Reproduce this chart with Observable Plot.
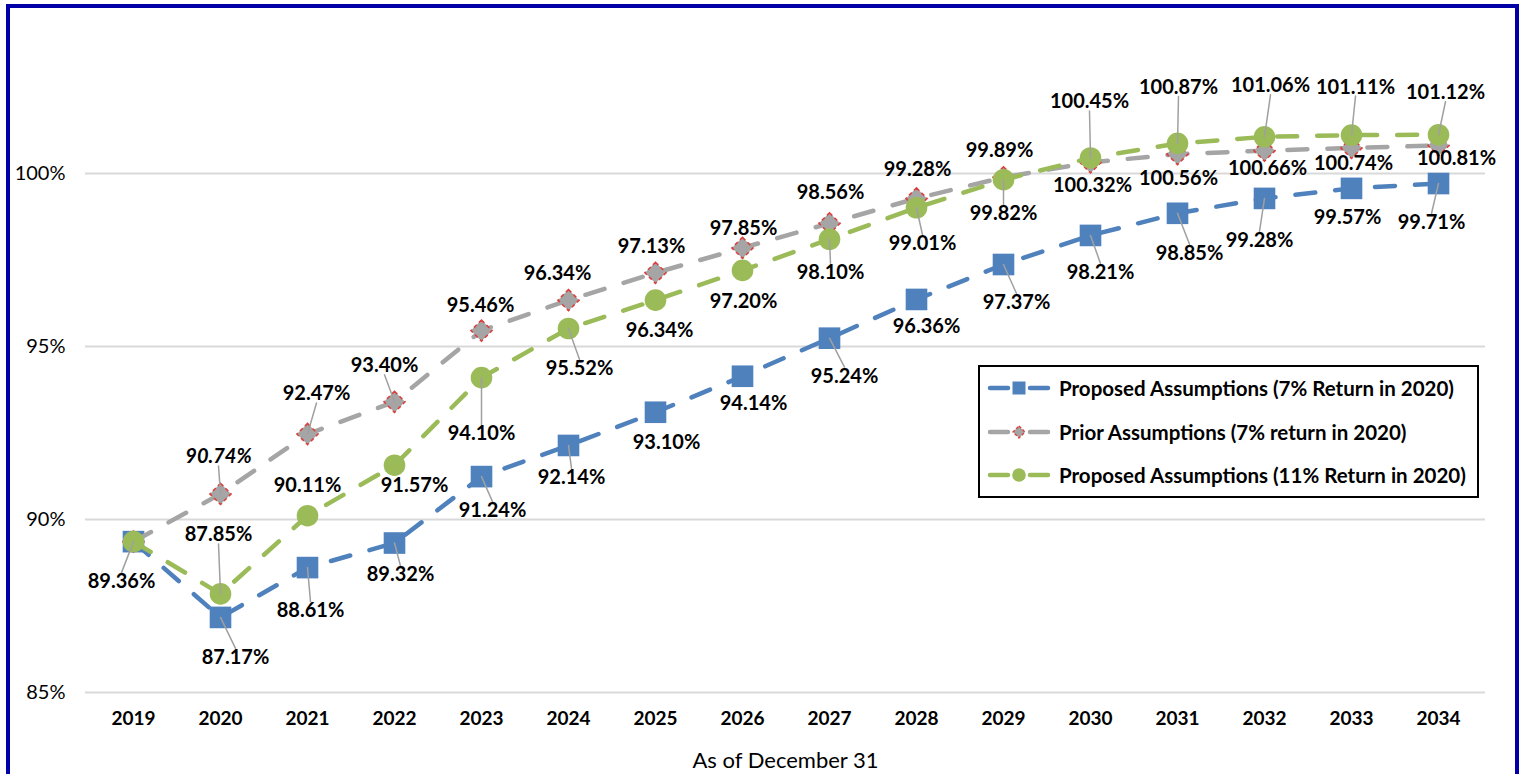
<!DOCTYPE html>
<html>
<head>
<meta charset="utf-8">
<script src="https://cdn.jsdelivr.net/npm/d3@7"></script>
<script src="https://cdn.jsdelivr.net/npm/@observablehq/plot@0.6"></script>
<style>
  html, body { margin: 0; padding: 0; background: #fff; overflow: hidden; }
  #wrap { position: relative; width: 1523px; height: 774px; }
  #frame { position: absolute; left: 6px; top: 4px; width: 1513px; height: 800px; border: 4px solid #0000A6; box-sizing: border-box; pointer-events: none; }
  #legend { position: absolute; left: 978px; top: 365px; width: 501px; height: 133px; border: 2px solid #000; box-sizing: border-box; background: #fff;
            font-family: Lato, "Noto Sans", sans-serif; font-weight: bold; font-size: 20.5px; color: #000; }
  #legend .row { position: absolute; left: 7px; height: 22px; display: flex; align-items: center; white-space: nowrap; }
  #legend .row svg { margin-right: 8px; }
</style>
</head>
<body>
<div id="wrap">
  <div id="chart"></div>
  <div id="legend"></div>
  <div id="frame"></div>
</div>
<script>
// ---- data ----
const years = [2019, 2020, 2021, 2022, 2023, 2024, 2025, 2026, 2027, 2028, 2029, 2030, 2031, 2032, 2033, 2034];
const proposed7  = [89.36, 87.17, 88.61, 89.32, 91.24, 92.14, 93.10, 94.14, 95.24, 96.36, 97.37, 98.21, 98.85, 99.28, 99.57, 99.71];
const prior7     = [89.36, 90.74, 92.47, 93.40, 95.46, 96.34, 97.13, 97.85, 98.56, 99.28, 99.89, 100.32, 100.56, 100.66, 100.74, 100.81];
const proposed11 = [89.36, 87.85, 90.11, 91.57, 94.10, 95.52, 96.34, 97.20, 98.10, 99.01, 99.82, 100.45, 100.87, 101.06, 101.11, 101.12];
const seriesNames = [
  "Proposed Assumptions (7% Return in 2020)",
  "Prior Assumptions (7% return in 2020)",
  "Proposed Assumptions (11% Return in 2020)"
];
const yTicks = [85, 90, 95, 100];
const xLabel = "As of December 31";

// ---- label layout (pixel offsets of each data label from its point; null = no label) ----
const proposed7LabelOffsets = [[-12,40],[15,40],[3,43],[6,32],[11,34],[3,32],[11,30],[11,27],[15,38],[10,27],[13,38],[10,37],[12,40],[-5,42],[-4,29],[-7,39]];
const prior7LabelOffsets = [null,[-2,-37],[9,-40],[-10,-36],[-1,-25],[-11,-27],[-4,-26],[1,-19],[1,-31],[1,-29],[-4,-27],[2,23],[1,24],[3,18],[2,16],[18,13]];
const proposed11LabelOffsets = [null,[-2,-59],[0,-30],[20,20],[0,56],[11,40],[4,30],[1,31],[1,33],[6,36],[0,34],[-1,-56],[1,-56],[6,-51],[4,-48],[7,-42]];
const italicLabels = [[1, 2020]]; // series index, year

const series = [
  {name: seriesNames[0], values: proposed7,  color: "#4F81BD", symbol: "square",   r: 12.2, offsets: proposed7LabelOffsets},
  {name: seriesNames[1], values: prior7,     color: "#A5A5A5", symbol: "diamond2", r: 9.5,  offsets: prior7LabelOffsets, outline: "#D9413E"},
  {name: seriesNames[2], values: proposed11, color: "#9BBB59", symbol: "circle",   r: 10.8, offsets: proposed11LabelOffsets}
];

const fmt = v => d3.format(".2f")(v) + "%";
const FONT = "Lato, 'Noto Sans', sans-serif";

const lineMarks = [], leaderMarks = [], labelMarks = [];
series.forEach((s, si) => {
  const rows = years.map((year, i) => ({year, value: s.values[i]}));
  lineMarks.push(Plot.line(rows, {x: "year", y: "value", stroke: s.color, strokeWidth: 4.5,
    strokeDasharray: "20,20", strokeLinecap: "round", strokeLinejoin: "round"}));
  lineMarks.push(Plot.dot(rows, {x: "year", y: "value", symbol: s.symbol, r: s.r, fill: s.color,
    stroke: s.outline || "none", strokeWidth: s.outline ? 1.6 : 0, strokeDasharray: s.outline ? "4,3" : null}));
  rows.forEach((row, i) => {
    const off = s.offsets[i];
    if (!off) return;
    const [dx, dy] = off;
    if (Math.abs(dy) >= 32) {
      const ex = dx, ey = dy - Math.sign(dy) * 9;
      const len = Math.hypot(ex, ey);
      const rot = Math.atan2(ex, -ey) * 180 / Math.PI;
      leaderMarks.push(Plot.vector([row], {x: "year", y: "value", rotate: rot, length: len, anchor: "start",
        shape: "spike", r: 0, stroke: "#A0A0A0", strokeWidth: 1.5, fill: "none"}));
    }
    const italic = italicLabels.some(([k, y]) => k === si && y === row.year);
    labelMarks.push(Plot.text([row], {x: "year", y: "value", text: d => fmt(d.value), dx, dy,
      fontWeight: "bold", fontSize: 20, fill: "#000", fontStyle: italic ? "italic" : "normal", fontFamily: FONT}));
  });
});

const chart = Plot.plot({
  width: 1523, height: 774,
  marginLeft: 85, marginRight: 38, marginTop: 0, marginBottom: 82,
  style: {fontFamily: FONT, background: "transparent", color: "#000", overflow: "visible"},
  x: {type: "point", domain: years, padding: 0.5},
  y: {domain: [85, 105]},
  marks: [
    Plot.ruleY(yTicks, {stroke: "#D9D9D9", strokeWidth: 1.8}),
    Plot.axisY({ticks: yTicks, tickSize: 0, tickPadding: 20, tickFormat: d => d + "%", fontSize: 20, label: null, fontFamily: FONT}),
    Plot.axisX({tickSize: 0, tickPadding: 19, fontSize: 19, fontWeight: "bold", fontFamily: FONT, label: null, tickFormat: d => String(d)}),
    Plot.axisX({ticks: [], tickSize: 0, label: xLabel, labelAnchor: "center", labelArrow: "none", labelOffset: 75, fontSize: 22, fontFamily: FONT}),
    ...lineMarks,
    ...leaderMarks,
    ...labelMarks
  ]
});
document.getElementById("chart").appendChild(chart);

// ---- legend ----
const legend = document.getElementById("legend");
const rowTops = [10, 54, 97];
series.forEach((s, i) => {
  const row = document.createElement("div");
  row.className = "row";
  row.style.top = rowTops[i] + "px";
  let marker;
  if (s.symbol === "square") marker = `<rect x="25.5" y="4.5" width="13" height="13" fill="${s.color}"/>`;
  else if (s.symbol === "circle") marker = `<circle cx="32" cy="11" r="6.8" fill="${s.color}"/>`;
  else marker = `<path d="M32,5L38,11L32,17L26,11Z" fill="${s.color}" stroke="${s.outline}" stroke-width="1.4" stroke-dasharray="3,2"/>`;
  row.innerHTML = `<svg width="64" height="22"><g stroke="${s.color}" stroke-width="4.5" stroke-linecap="round">
    <line x1="3" y1="11" x2="21" y2="11"/><line x1="43" y1="11" x2="61" y2="11"/></g>${marker}</svg><span>${s.name}</span>`;
  legend.appendChild(row);
});
</script>
</body>
</html>
